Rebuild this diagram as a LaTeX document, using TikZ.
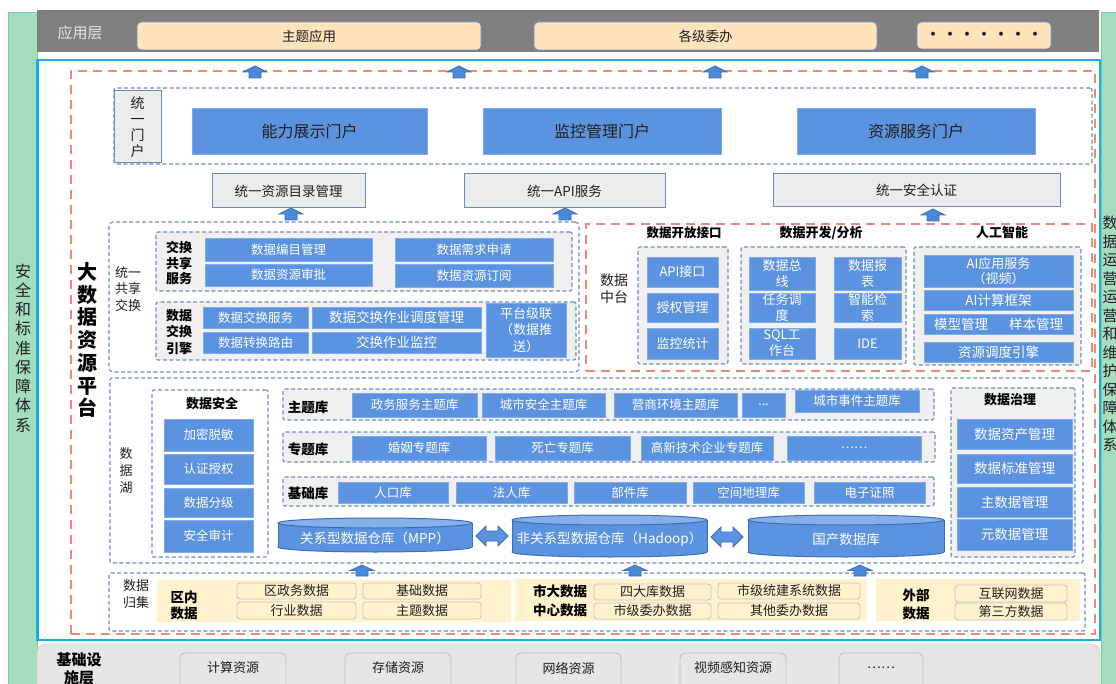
\documentclass[tikz,border=0pt]{standalone}
\usepackage{fontspec}
\setmainfont{Noto Sans CJK SC}
\definecolor{bfill}{HTML}{5B93E0}
\definecolor{bdraw}{HTML}{80AAE8}
\definecolor{dashblue}{HTML}{6C8EBF}
\definecolor{orng}{HTML}{F4876F}
\definecolor{svcfill}{HTML}{ECECEC}
\definecolor{panelgray}{HTML}{F0F0F0}
\definecolor{peach}{HTML}{FEE3BC}
\definecolor{yel}{HTML}{FFF2CC}
\definecolor{grn}{HTML}{A5DDBF}
\definecolor{grnline}{HTML}{7CCB9E}
\definecolor{cyanl}{HTML}{1AAEE6}
\definecolor{topgray}{HTML}{808080}
\definecolor{botgray}{HTML}{E6E6E6}
\definecolor{txt}{HTML}{1F1F1F}
\definecolor{cyldark}{HTML}{3D6DB3}
\definecolor{cyltopc}{HTML}{86B0EC}
\definecolor{arrfill}{HTML}{4A88DA}
\newcommand{\bb}[7][]{\node[#1, minimum width={#5-#3}, minimum height={#6-#4}] (#2) at ({(#3+#5)/2},{(#4+#6)/2}) {#7};}
\newcommand{\UpArr}[3][12]{\filldraw[uparrstyle] ({#2},{#3}) -- ({#2+12},{#3+#1/2}) -- ({#2+6},{#3+#1/2}) -- ({#2+6},{#3+#1}) -- ({#2-6},{#3+#1}) -- ({#2-6},{#3+#1/2}) -- ({#2-12},{#3+#1/2}) -- cycle;}
\newcommand{\DblArr}[3]{\filldraw[dblstyle] ({#1},{#3}) -- ({#1+10},{#3-10}) -- ({#1+10},{#3-5}) -- ({#2-10},{#3-5}) -- ({#2-10},{#3-10}) -- ({#2},{#3}) -- ({#2-10},{#3+10}) -- ({#2-10},{#3+5}) -- ({#1+10},{#3+5}) -- ({#1+10},{#3+10}) -- cycle;}
\newcommand{\Cyl}[6]{%
\filldraw[fill=bfill, draw=cyldark, line width=1pt] ({(#2+#3)/2},{#5}) ellipse ({(#3-#2)/2} and 5);
\fill[bfill] ({#2},{#4}) rectangle ({#3},{#5});
\draw[cyldark, line width=1pt] ({#2},{#4}) -- ({#2},{#5}) ({#3},{#4}) -- ({#3},{#5});
\filldraw[fill=cyltopc, draw=cyldark, line width=1pt] ({(#2+#3)/2},{#4}) ellipse ({(#3-#2)/2} and 5);
\node[text=white, font=\fontsize{13.5}{16}\selectfont] (#1) at ({(#2+#3)/2},{(#4+#5)/2+3}) {#6};}
\tikzset{
  every node/.style={inner sep=0pt, outer sep=0pt},
  greencol/.style={fill=grn, draw=grnline, line width=0.8pt},
  topband/.style={fill=topgray},
  mainfrm/.style={fill=white, draw=cyanl, line width=2.5pt},
  botband/.style={fill=botgray, draw=black!17, line width=0.8pt, rounded corners=9pt},
  appbox/.style={fill=peach, draw=dashblue, line width=0.9pt, rounded corners=4pt, text=txt, font=\fontsize{13.5}{16}\selectfont},
  infrabox/.style={fill=botgray, draw=black!25, line width=0.9pt, rounded corners=5pt},
  odash/.style={draw=orng, dash pattern=on 9pt off 6pt, line width=2.3pt},
  bdash/.style={draw=dashblue, dash pattern=on 4pt off 2.5pt, line width=1.1pt, rounded corners=2pt},
  bluebox/.style={fill=bfill, draw=bdraw, line width=0.6pt, text=white, align=center, font=\fontsize{12.5}{15}\selectfont},
  portalbox/.style={fill=bfill, draw=bdraw, line width=0.6pt, text=txt, font=\fontsize{16}{19}\selectfont},
  svcbox/.style={fill=svcfill, draw=dashblue, line width=1pt, text=txt, font=\fontsize{13.5}{16}\selectfont},
  lbl/.style={text=txt, align=center, font=\fontsize{13}{16.5}\selectfont},
  blbl/.style={text=black, align=center, font=\fontsize{13}{15.5}\selectfont\bfseries},
  ybox/.style={fill=yel, draw=black!22, line width=0.9pt, rounded corners=3pt, text=txt, font=\fontsize{13}{15}\selectfont},
  uparrstyle/.style={fill=arrfill, draw=cyldark, line width=0.7pt},
  dblstyle/.style={fill=bfill, draw=cyldark, line width=0.9pt},
}
\begin{document}
\begin{tikzpicture}[x=1pt,y=-1pt]
\useasboundingbox (0,0) rectangle (1116,684);
\clip (0,0) rectangle (1116,684);
\fill[white] (0,0) rectangle (1116,684);
% side columns
\bb[greencol]{lgreen}{8}{12}{37}{690}{}
\bb[greencol]{rgreen}{1101}{12}{1125}{690}{}
\node[text=txt, align=center, font=\fontsize{16}{19.25}\selectfont] (ltxt) at (23,348) {安\\全\\和\\标\\准\\保\\障\\体\\系};
\node[text=txt, align=center, font=\fontsize{15}{18.5}\selectfont] (rtxt) at (1110,334) {数\\据\\运\\营\\运\\营\\和\\维\\护\\保\\障\\体\\系};
% application layer
\bb[topband]{appband}{37}{10}{1099}{52}{}
\node[font=\fontsize{15}{18}\selectfont, text=white!90!black] (applbl) at (80,33) {应用层};
\bb[appbox]{app1}{137}{22}{481}{50}{主题应用}
\bb[appbox]{app2}{534}{22}{877}{50}{各级委办}
\bb[appbox, font=\fontsize{14}{16}\selectfont\bfseries]{app3}{917}{22}{1051}{49}{·\hspace{3pt}·\hspace{3pt}·\hspace{3pt}·\hspace{3pt}·\hspace{3pt}·\hspace{3pt}·}
% main frame
\bb[mainfrm]{mainframe}{37.5}{60}{1100}{640}{}
% infrastructure
\bb[botband]{infraband}{37}{644}{1100}{700}{}
\node[blbl, font=\fontsize{15}{18}\selectfont\bfseries] (infralbl) at (79,669) {基础设\\施层};
\foreach \nm/\xa/\xb/\tt in {inf1/180/286/计算资源, inf2/345/451/存储资源, inf3/516/621/网络资源, inf4/680/786/视频感知资源, inf5/839/923/……}{
  \bb[infrabox]{\nm}{\xa}{653}{\xb}{700}{}
  \node[lbl, font=\fontsize{13}{15}\selectfont] (\nm t) at ({(\xa+\xb)/2},668) {\tt};
}
% orange platform frame
\bb[odash]{platform}{71}{71}{1095}{634}{}
\node[blbl, font=\fontsize{20}{22.7}\selectfont\bfseries] (platlbl) at (87,340) {大\\数\\据\\资\\源\\平\\台};
% portal
\bb[bdash, fill=white]{portal}{114}{88}{1092}{164}{}
\bb[fill=svcfill, draw=dashblue, line width=1pt, text=txt, align=center, font=\fontsize{14}{16.2}\selectfont]{portallbl}{114}{91}{161}{163}{统\\一\\门\\户}
\bb[portalbox]{p1}{192}{108}{427}{154}{能力展示门户}
\bb[portalbox]{p2}{483}{108}{721}{154}{监控管理门户}
\bb[portalbox]{p3}{797}{108}{1035}{154}{资源服务门户}
% services
\bb[svcbox]{s1}{212}{174}{365}{208}{统一资源目录管理}
\bb[svcbox]{s2}{464}{174}{665}{208}{统一API服务}
\bb[svcbox]{s3}{773}{174}{1060}{207}{统一安全认证}
% exchange
\bb[bdash, fill=white, rounded corners=4pt]{xchg}{109}{222}{579}{372}{}
\node[lbl] (xchglbl) at (128,289) {统一\\共享\\交换};
\bb[bdash, fill=panelgray]{xs}{156}{232}{572}{291}{}
\node[blbl] (xslbl) at (179,263) {交换\\共享\\服务};
\bb[bluebox]{xs1}{205}{238}{372}{261}{数据编目管理}
\bb[bluebox]{xs2}{205}{264}{372}{286}{数据资源审批}
\bb[bluebox]{xs3}{395}{238}{553}{261}{数据需求申请}
\bb[bluebox]{xs4}{395}{264}{553}{287}{数据资源订阅}
\bb[bdash, fill=panelgray]{xe}{156}{302}{576}{360}{}
\node[blbl, font=\fontsize{13}{16.5}\selectfont\bfseries] (xelbl) at (179,332) {数据\\交换\\引擎};
\bb[bluebox]{xe1}{203}{307}{308}{328}{数据交换服务}
\bb[bluebox]{xe2}{203}{332}{308}{353}{数据转换路由}
\bb[bluebox, font=\fontsize{13.5}{15}\selectfont]{xe3}{312}{307}{481}{328}{数据交换作业调度管理}
\bb[bluebox, font=\fontsize{13.5}{15}\selectfont]{xe4}{312}{332}{481}{353}{交换作业监控}
\bb[bluebox, font=\fontsize{13}{16.5}\selectfont]{xe5}{486}{303}{566}{357}{平台级联\\（数据推\\送）}
% data middle platform
\bb[odash]{dmp}{586}{224}{1092}{371}{}
\node[lbl, font=\fontsize{14}{17}\selectfont] (dmplbl) at (614,289) {数据\\中台};
\node[blbl, font=\fontsize{12.5}{15}\selectfont\bfseries] (h1) at (684,233) {数据开放接口};
\node[blbl] (h2) at (821,233) {数据开发/分析};
\node[blbl] (h3) at (1002,233) {人工智能};
\bb[bdash, fill=panelgray]{g1}{638}{247}{728}{364}{}
\bb[bluebox, font=\fontsize{13}{15}\selectfont]{g1a}{647}{257}{718}{287}{API接口}
\bb[bluebox, font=\fontsize{13}{15}\selectfont]{g1b}{647}{293}{718}{322}{授权管理}
\bb[bluebox, font=\fontsize{13}{15}\selectfont]{g1c}{647}{328}{718}{359}{监控统计}
\bb[bdash, fill=panelgray]{g2}{741}{247}{906}{364}{}
\bb[bluebox, font=\fontsize{13}{16}\selectfont]{g2a}{749}{257}{815}{290}{数据总\\线}
\bb[bluebox, font=\fontsize{13}{16}\selectfont]{g2b}{834}{257}{901}{290}{数据报\\表}
\bb[bluebox, font=\fontsize{13}{16}\selectfont]{g2c}{749}{293}{815}{322}{任务调\\度}
\bb[bluebox, font=\fontsize{13}{16}\selectfont]{g2d}{834}{293}{901}{322}{智能检\\索}
\bb[bluebox, font=\fontsize{13}{16}\selectfont]{g2e}{749}{328}{815}{359}{SQL工\\作台}
\bb[bluebox, font=\fontsize{13}{16}\selectfont]{g2f}{834}{328}{901}{359}{IDE}
\bb[bdash, fill=panelgray]{g3}{914}{247}{1081}{365}{}
\bb[bluebox, font=\fontsize{13}{15.5}\selectfont]{g3a}{924}{255}{1073}{287}{AI应用服务\\（视频）}
\bb[bluebox, font=\fontsize{13.5}{15}\selectfont]{g3b}{924}{290}{1073}{310}{AI计算框架}
\bb[bluebox]{g3c}{924}{314}{1073}{334}{}
\node[text=white, font=\fontsize{13.5}{15}\selectfont] (g3c1) at (961,324) {模型管理};
\node[text=white, font=\fontsize{13.5}{15}\selectfont] (g3c2) at (1036,324) {样本管理};
\bb[bluebox, font=\fontsize{13.5}{15}\selectfont]{g3d}{924}{342}{1073}{362}{资源调度引擎}
% data lake
\bb[bdash, fill=white]{lake}{110}{378}{1083}{563}{}
\node[lbl, font=\fontsize{13}{17}\selectfont] (lakelbl) at (126,471) {数\\据\\湖};
\bb[bdash, fill=white]{sec}{152}{390}{268}{557}{}
\node[blbl] (seclbl) at (212,404) {数据安全};
\bb[bluebox]{sec1}{164}{419}{253}{451}{加密脱敏}
\bb[bluebox]{sec2}{164}{454}{253}{484}{认证授权}
\bb[bluebox]{sec3}{164}{488}{253}{517}{数据分级}
\bb[bluebox]{sec4}{164}{520}{253}{552}{安全审计}
\bb[bdash, fill=panelgray]{theme}{283}{389}{934}{420}{}
\node[blbl, font=\fontsize{13.5}{16}\selectfont\bfseries] (themelbl) at (308,407) {主题库};
\bb[bluebox]{t1}{352}{393}{477}{417}{政务服务主题库}
\bb[bluebox]{t2}{482}{393}{605}{417}{城市安全主题库}
\bb[bluebox]{t3}{614}{393}{737}{417}{营商环境主题库}
\bb[bluebox]{t4}{742}{393}{785}{417}{...}
\bb[bluebox]{t5}{795}{390}{919}{412}{城市事件主题库}
\bb[bdash, fill=panelgray]{spec}{283}{432}{935}{462}{}
\node[blbl, font=\fontsize{13.5}{16}\selectfont\bfseries] (speclbl) at (308,449) {专题库};
\bb[bluebox]{sp1}{352}{436}{486}{460}{婚姻专题库}
\bb[bluebox]{sp2}{495}{436}{630}{460}{死亡专题库}
\bb[bluebox]{sp3}{641}{436}{773}{460}{高新技术企业专题库}
\bb[bluebox]{sp4}{787}{436}{921}{460}{……}
\bb[bdash, fill=panelgray]{base}{283}{477}{934}{506}{}
\node[blbl, font=\fontsize{13.5}{16}\selectfont\bfseries] (baselbl) at (308,493) {基础库};
\bb[bluebox]{b1}{338}{482}{448}{503}{人口库}
\bb[bluebox]{b2}{456}{482}{567}{503}{法人库}
\bb[bluebox]{b3}{574}{482}{686}{503}{部件库}
\bb[bluebox]{b4}{693}{482}{804}{503}{空间地理库}
\bb[bluebox]{b5}{814}{482}{925}{503}{电子证照}
\Cyl{cy1}{278}{472}{523}{547}{关系型数据仓库（MPP）}
\Cyl{cy2}{512}{707}{520}{552}{非关系型数据仓库（Hadoop）}
\Cyl{cy3}{748}{944}{520}{552}{国产数据库}
\DblArr{476}{508}{536}
\DblArr{711}{743}{537}
\bb[bdash, fill=panelgray]{gov}{951}{388}{1075}{557}{}
\node[blbl] (govlbl) at (1010,400) {数据治理};
\bb[bluebox, font=\fontsize{13.5}{16}\selectfont]{gv1}{957}{419}{1072}{449}{数据资产管理}
\bb[bluebox, font=\fontsize{13.5}{16}\selectfont]{gv2}{957}{454}{1072}{483}{数据标准管理}
\bb[bluebox, font=\fontsize{13.5}{16}\selectfont]{gv3}{957}{487}{1072}{517}{主数据管理}
\bb[bluebox, font=\fontsize{13.5}{16}\selectfont]{gv4}{957}{519}{1072}{550}{元数据管理}
% data collection
\bb[bdash, fill=white]{coll}{109}{573}{1085}{631}{}
\node[lbl, font=\fontsize{13}{17}\selectfont] (colllbl) at (136,594) {数据\\归集};
\bb[fill=yel]{pa}{157}{580}{511}{622}{}
\node[blbl, font=\fontsize{13.5}{16}\selectfont\bfseries] (palbl) at (184,605) {区内\\数据};
\bb[ybox]{pa1}{237}{583}{356}{599}{区政务数据}
\bb[ybox]{pa2}{237}{602}{356}{619}{行业数据}
\bb[ybox]{pa3}{363}{583}{481}{599}{基础数据}
\bb[ybox]{pa4}{363}{602}{481}{619}{主题数据}
\bb[fill=yel]{pb}{515}{579}{867}{621}{}
\node[blbl, font=\fontsize{13.5}{19}\selectfont\bfseries] (pblbl) at (560,601) {市大数据\\中心数据};
\bb[ybox]{pb1}{594}{584}{711}{600}{四大库数据}
\bb[ybox]{pb2}{594}{603}{711}{619}{市级委办数据}
\bb[ybox]{pb3}{718}{583}{860}{599}{市级统建系统数据}
\bb[ybox]{pb4}{718}{603}{860}{619}{其他委办数据}
\bb[fill=yel]{pc}{876}{579}{1080}{621}{}
\node[blbl, font=\fontsize{13.5}{18}\selectfont\bfseries] (pclbl) at (916,604) {外部\\数据};
\bb[ybox]{pc1}{955}{585}{1067}{602}{互联网数据}
\bb[ybox]{pc2}{955}{603}{1067}{620}{第三方数据}
% up arrows
\UpArr{255}{66}
\UpArr{459}{66}
\UpArr{715}{66}
\UpArr{922}{66}
\UpArr{291}{208}
\UpArr{565}{208}
\UpArr{933}{209}
\UpArr[11]{362}{565}
\UpArr[11]{635}{565}
\UpArr[11]{860}{565}
\end{tikzpicture}
\end{document}
